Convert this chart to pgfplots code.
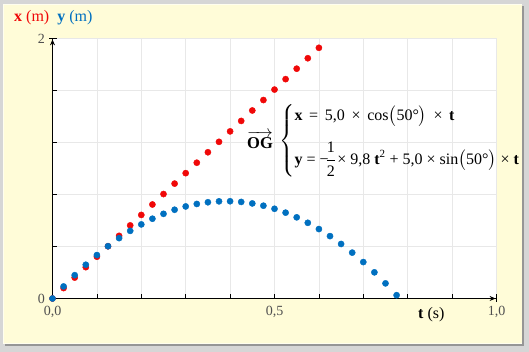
\documentclass[border=0pt]{standalone}
\usepackage{amsmath}
\usepackage{fontspec}
\setmainfont{Liberation Serif}
\usepackage{pgfplots}
\pgfplotsset{compat=1.18}
\usetikzlibrary{arrows.meta}
\definecolor{frameg}{RGB}{214,214,214}
\definecolor{shadowg}{RGB}{150,150,150}
\definecolor{beige}{RGB}{255,252,216}
\definecolor{ptred}{RGB}{240,8,8}
\definecolor{ptblue}{RGB}{0,112,192}
\definecolor{labgray}{RGB}{80,80,80}
\definecolor{gridg}{RGB}{232,232,232}
\begin{document}
\begin{tikzpicture}[x=1pt,y=1pt]
\path[use as bounding box] (0,0) rectangle (529,352);
\fill[frameg] (0,0) rectangle (529,352);
\fill[shadowg] (5,6) rectangle (524,346);
\fill[white!60!beige] (3,8) rectangle (522,348);
\fill[beige] (4,9) rectangle (522,347);
\begin{axis}[
  at={(52.5pt,53.5pt)}, anchor=south west,
  scale only axis, width=444pt, height=260pt,
  xmin=0, xmax=1, ymin=0, ymax=2,
  axis lines=left,
  axis line style={black, line width=0.9pt},
  x axis line style={-{Stealth[length=6pt,width=5pt]Bar[width=7pt]}},
  y axis line style={-{Stealth[length=6pt,width=5pt]Bar[width=7pt]}},
  axis background/.style={fill=white},
  xtick={0,0.1,0.2,0.3,0.4,0.5,0.6,0.7,0.8,0.9,1.0},
  xticklabels={{0,0},,,,,{0,5},,,,,{1,0}},
  ytick={0,0.4,0.8,1.2,1.6,2},
  yticklabels={0,,,,,2},
  tick align=inside, major tick length=4pt,
  tick style={black, line width=0.6pt},
  grid=major, grid style={gridg, line width=0.6pt},
  /pgf/number format/assume math mode=true,
  xticklabel style={font=\fontsize{14}{16}\selectfont, text=labgray, yshift=-4pt},
  yticklabel style={font=\fontsize{14}{16}\selectfont, text=labgray, xshift=-4pt},
  clip=false,
]
\addplot[only marks, mark=*, mark size=3.1pt, mark options={draw=ptred, fill=ptred}] table {
t x
0.000 0.0000
0.025 0.0803
0.050 0.1607
0.075 0.2410
0.100 0.3214
0.125 0.4017
0.150 0.4821
0.175 0.5624
0.200 0.6428
0.225 0.7231
0.250 0.8035
0.275 0.8838
0.300 0.9642
0.325 1.0445
0.350 1.1249
0.375 1.2052
0.400 1.2856
0.425 1.3659
0.450 1.4463
0.475 1.5266
0.500 1.6070
0.525 1.6873
0.550 1.7677
0.575 1.8480
0.600 1.9284
};
\addplot[only marks, mark=*, mark size=3.1pt, mark options={draw=ptblue, fill=ptblue}] table {
t y
0.000 0.0000
0.025 0.0927
0.050 0.1793
0.075 0.2597
0.100 0.3340
0.125 0.4022
0.150 0.4643
0.175 0.5202
0.200 0.5700
0.225 0.6137
0.250 0.6513
0.275 0.6827
0.300 0.7081
0.325 0.7273
0.350 0.7403
0.375 0.7473
0.400 0.7481
0.425 0.7428
0.450 0.7313
0.475 0.7138
0.500 0.6901
0.525 0.6603
0.550 0.6244
0.575 0.5823
0.600 0.5341
0.625 0.4798
0.650 0.4194
0.675 0.3528
0.700 0.2802
0.725 0.2013
0.750 0.1164
0.775 0.0254
};
\end{axis}
\node[anchor=west, font=\fontsize{16}{19}\selectfont, inner sep=0] at (14,334) {\textcolor{ptred}{\textbf{x} (m)}\hspace{8pt}\textcolor{ptblue}{\textbf{y} (m)}};
\node[anchor=west, font=\fontsize{16}{19}\selectfont, inner sep=0] at (418,37) {\textbf{t} (s)};
\node[font=\fontsize{16.5}{19}\selectfont, inner sep=0] at (260,212) {$\overrightarrow{\mbox{\textbf{OG}}}$};
\node[anchor=west, font=\fontsize{16}{19}\selectfont, inner sep=0] at (279,211) {$\left\{\begin{array}{@{}l@{}}
\mbox{\textbf{x}\ \,=\ \,5,0\ \,×\ \,cos}\bigl(\mbox{50°}\bigr)\mbox{\ \,×\ \,\textbf{t}}\\[16pt]
\mbox{\textbf{y} = −}\!\dfrac{\mbox{1}}{\mbox{2}}\!\mbox{ × 9,8 \textbf{t}}^{\mbox{\fontsize{11}{12}\selectfont 2}}\mbox{ + 5,0 × sin}\bigl(\mbox{50°}\bigr)\mbox{ × \textbf{t}}
\end{array}\right.$};
\end{tikzpicture}
\end{document}
